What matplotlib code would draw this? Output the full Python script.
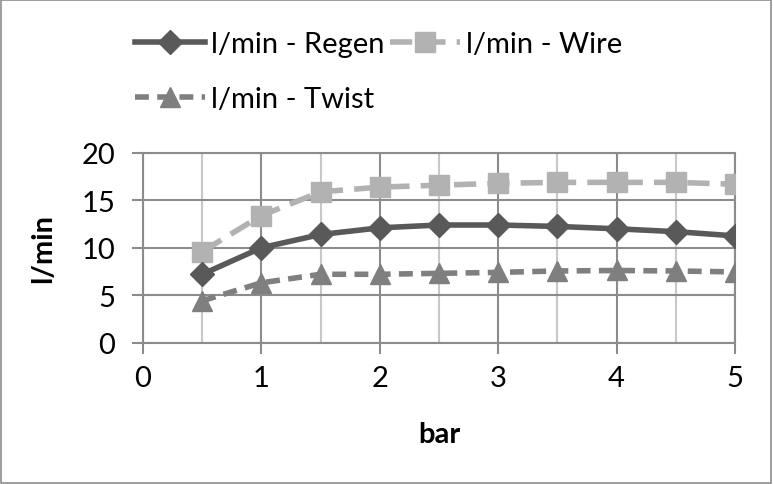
import matplotlib
matplotlib.use("Agg")
import matplotlib.pyplot as plt
from matplotlib.patches import Rectangle

plt.rcParams['font.family'] = ['Lato', 'DejaVu Sans']

bar = [0.5, 1, 1.5, 2, 2.5, 3, 3.5, 4, 4.5, 5]
regen = [7.2, 10.0, 11.4, 12.1, 12.4, 12.4, 12.25, 12.0, 11.7, 11.25]
wire = [9.6, 13.4, 15.9, 16.4, 16.6, 16.8, 16.9, 16.9, 16.9, 16.7]
twist = [4.4, 6.3, 7.2, 7.2, 7.3, 7.4, 7.55, 7.6, 7.55, 7.45]

x_ticks = [0, 1, 2, 3, 4, 5]
y_ticks = [0, 5, 10, 15, 20]

fig = plt.figure(figsize=(7.73, 4.85), dpi=100)
fig.patches.append(Rectangle((0.001, 0.002), 0.997, 0.995, transform=fig.transFigure,
                             fill=False, edgecolor="#8c8c8c", linewidth=1.2))
ax = fig.add_axes([143 / 773, 1 - 343.5 / 485, (735 - 143) / 773, (343.5 - 154) / 485])

ax.plot(bar, regen, color="#595959", linewidth=4, marker="D", markersize=12,
        label="l/min - Regen", zorder=4)
ax.plot(bar, twist, color="#7f7f7f", linewidth=4, linestyle=(0, (2.5, 1.5)),
        marker="^", markersize=14, label="l/min - Twist", zorder=3)
ax.plot(bar, wire, color="#b2b2b2", linewidth=4, linestyle=(0, (4, 2)),
        marker="s", markersize=14, label="l/min - Wire", zorder=3)

ax.set_xlim(0, 5)
ax.set_ylim(0, 20)
ax.set_xticks(x_ticks)
ax.set_xticks([0.5, 1.5, 2.5, 3.5, 4.5], minor=True)
ax.set_yticks(y_ticks)
ax.grid(True, which="major", color="#8c8c8c", linewidth=1.5)
ax.grid(True, which="minor", axis="x", color="#c8c8c8", linewidth=1.5)
ax.tick_params(which="major", length=8, width=1.5, color="#8c8c8c",
               labelsize=21, pad=8)
ax.tick_params(axis="y", pad=12)
ax.tick_params(which="minor", length=0)
for s in ax.spines.values():
    s.set_color("#8c8c8c")
    s.set_linewidth(1.5)

ax.set_xlabel("bar", fontsize=21, fontweight="bold", labelpad=22)
ax.set_ylabel("l/min", fontsize=21, fontweight="bold", labelpad=18)

fig.legend(loc="upper left", bbox_to_anchor=(135 / 773, 1 - 32 / 485), ncol=2,
           frameon=False, fontsize=21, handlelength=2.4, columnspacing=0.2,
           handletextpad=0.2, labelspacing=1.0, borderpad=0, borderaxespad=0)

plt.savefig("out.png", dpi=100)
plt.close()
